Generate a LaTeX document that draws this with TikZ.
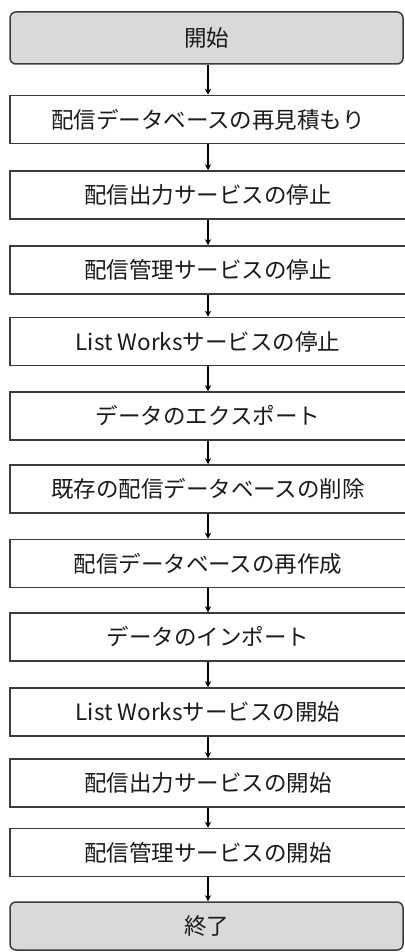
\documentclass[tikz,border=0pt]{standalone}
\usepackage{fontspec}
\newfontfamily\jpfont{Noto Sans CJK JP}
\usetikzlibrary{arrows.meta}
\definecolor{termGray}{HTML}{D9D9D9}
\definecolor{edgeDark}{HTML}{3C3C3C}
\definecolor{inkBlack}{HTML}{1A1A1A}
\tikzset{
    stepbox/.style={draw=edgeDark,fill=white,line width=1.5pt,
        minimum width=396pt,minimum height=48pt,inner sep=0pt,
        align=center,font=\jpfont\fontsize{22.5pt}{24pt}\selectfont,text=inkBlack},
    termbox/.style={draw=edgeDark,fill=termGray,line width=1.5pt,rounded corners=6pt,
        minimum width=393pt,minimum height=50pt,inner sep=0pt,
        align=center,font=\jpfont\fontsize{22.5pt}{24pt}\selectfont,text=inkBlack},
    arrow/.style={-{Stealth[length=6pt,width=6pt]},draw=black,line width=1.3pt}
}
\begin{document}
\begin{tikzpicture}[x=1pt,y=-1pt]
        \useasboundingbox (0,0) rectangle (404,952);
        \node[termbox,minimum height=52pt] (start) at (206.5,38) {開始};
        \node[stepbox] (s1) at (208,119.5) {配信データベースの再見積もり};
        \node[stepbox] (s2) at (208,195) {配信出力サービスの停止};
        \node[stepbox] (s3) at (208,270) {配信管理サービスの停止};
        \node[stepbox] (s4) at (208,341.5) {List Worksサービスの停止};
        \node[stepbox] (s5) at (208,416) {データのエクスポート};
        \node[stepbox] (s6) at (208,489) {既存の配信データベースの削除};
        \node[stepbox] (s7) at (208,563.5) {配信データベースの再作成};
        \node[stepbox] (s8) at (208,637) {データのインポート};
        \node[stepbox] (s9) at (208,712) {List Worksサービスの開始};
        \node[stepbox] (s10) at (208,783) {配信出力サービスの開始};
        \node[stepbox] (s11) at (208,852.5) {配信管理サービスの開始};
        \node[termbox,minimum height=48pt] (stop) at (206.5,926) {終了};
        \draw[arrow] (start.south -| s1.north) -- (s1.north);
        \foreach \a/\b in {s1/s2,s2/s3,s3/s4,s4/s5,s5/s6,s6/s7,s7/s8,s8/s9,s9/s10,s10/s11} {
            \draw[arrow] (\a.south) -- (\b.north);
        }
        \draw[arrow] (s11.south) -- (s11.south |- stop.north);
    \end{tikzpicture}
\end{document}
